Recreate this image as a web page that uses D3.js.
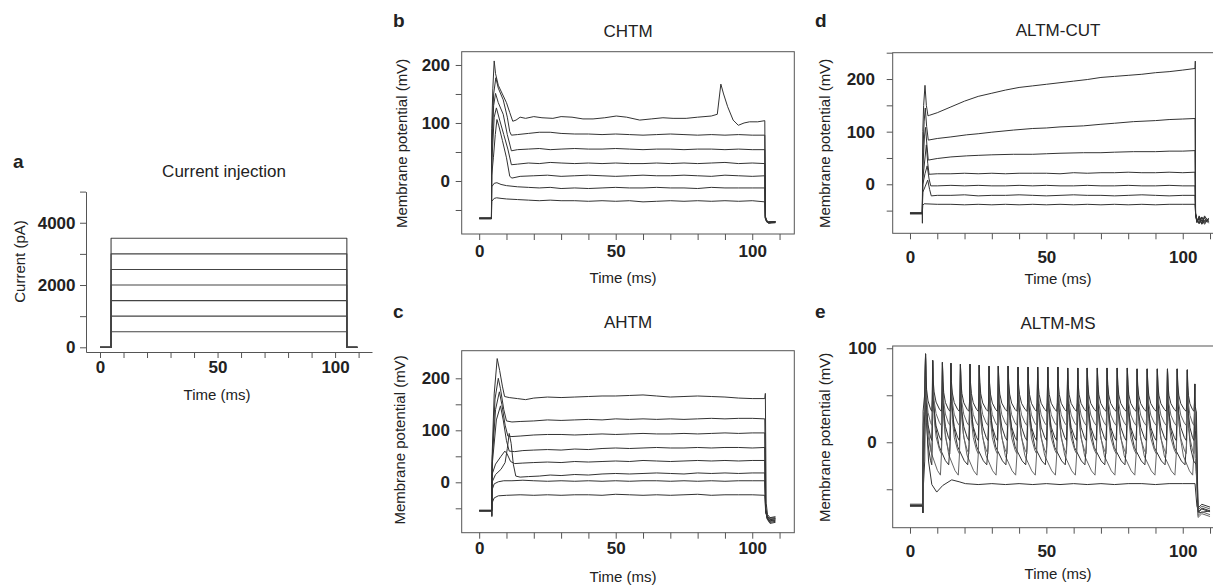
<!DOCTYPE html>
<html>
<head>
<meta charset="utf-8">
<script src="https://cdn.jsdelivr.net/npm/d3@7"></script>
<style>
  body { margin: 0; background: #fff; }
  svg { display: block; font-family: "Liberation Sans", Arial, Helvetica, sans-serif; }
</style>
</head>
<body>
<svg width="1213" height="585"></svg>
<script>
// ---- data: (time ms, value) ----

// a: current injection steps (pA)
const currentSteps = [500, 1000, 1500, 2000, 2500, 3000, 3500]
const stepOn = 4.7
const stepOff = 105
const stepEnd = 109.5

// b: CHTM
const chtmTraces = [
  [[0,-64],[4.5,-64],[4.6,90],[5.0,160],[5.5,207],[6.0,185],[7.0,165],[8.5,150],[10,135],[11.2,118],[12.3,103],[13.5,105],[15,110],[17,108],[20,111],[23,109],[27,108],[30,111],[34,110],[38,107],[41.7,107],[46,109],[50.2,112],[54,110],[58.8,105],[63,107],[67.3,109],[71,108],[75.8,108],[80,110],[85,112],[87.2,115],[88.5,167],[89.5,150],[91,128],[93,105],[94.9,96],[97,100],[99,102],[102,102],[104.6,104],[104.8,-60],[105.3,-70],[106,-72],[108.5,-71]],
  [[0,-65],[4.5,-65],[4.6,70],[5.3,150],[6.1,178],[7,160],[8.8,140],[10.3,110],[11.2,85],[11.8,79],[14,80],[18,82],[22,84],[26,84],[30,82],[35,81],[40,81],[45,80],[50,81],[55,80],[60,79],[65,80],[70,81],[75,80],[80,79],[85,80],[90,79],[95,80],[100,79],[104.6,79],[104.8,-62],[105.3,-69],[106,-70],[108.5,-70]],
  [[0,-64],[4.5,-64],[4.6,50],[5.3,130],[6.0,151],[7,135],[8.8,115],[10.3,80],[11.8,52],[14,54],[18,55],[22,56],[26,54],[30,55],[35,56],[40,55],[45,55],[50,56],[55,55],[60,54],[65,55],[70,55],[75,54],[80,55],[85,55],[90,54],[95,55],[100,54],[104.6,54],[104.8,-63],[105.3,-68],[106,-71],[108.5,-70]],
  [[0,-65],[4.5,-65],[4.6,30],[5.5,110],[6.3,126],[7.5,105],[9,80],[10.5,55],[11.8,28],[14,29],[18,31],[22,30],[26,32],[30,31],[35,30],[40,31],[45,30],[50,31],[55,30],[60,30],[65,31],[70,30],[75,31],[80,30],[85,31],[90,32],[95,30],[100,31],[104.6,30],[104.8,-64],[105.3,-70],[106,-72],[108.5,-71]],
  [[0,-64],[4.5,-64],[4.6,10],[5.2,40],[5.9,80],[6.5,106],[7.2,95],[8.5,70],[10,40],[11.2,8],[12,5],[15,8],[20,9],[25,10],[30,8],[35,9],[40,10],[45,9],[50,8],[55,9],[60,10],[65,9],[70,9],[75,10],[80,9],[85,8],[90,10],[95,9],[100,8],[104.6,9],[104.8,-63],[105.3,-69],[106,-71],[108.5,-70]],
  [[0,-65],[4.5,-65],[4.6,-10],[5.5,-4],[6.5,-3],[8,-6],[10,-8],[14,-10],[18,-11],[22,-12],[26,-11],[30,-13],[35,-12],[40,-13],[45,-12],[50,-11],[55,-12],[60,-12],[65,-11],[70,-12],[75,-12],[80,-13],[85,-11],[90,-12],[95,-12],[100,-12],[104.6,-12],[104.8,-64],[105.3,-70],[106,-73],[108.5,-72]],
  [[0,-64],[4.5,-64],[4.6,-35],[5.5,-30],[6.4,-29],[8,-30],[10,-31],[14,-32],[18,-33],[22,-34],[26,-33],[30,-34],[35,-34],[40,-35],[45,-34],[50,-35],[55,-34],[60,-36],[65,-35],[70,-34],[75,-35],[80,-34],[85,-35],[90,-34],[95,-35],[100,-34],[104.6,-36],[104.8,-65],[105.3,-71],[106,-72],[108.5,-71]]
]

// c: AHTM
const ahtmTraces = [
  [[0,-54],[4.6,-54],[4.65,-66],[4.8,60],[5.5,170],[6.6,238],[7.5,215],[8.5,185],[9.3,165],[11,163],[14,161],[17,159],[20,162],[25,164],[30,163],[35,164],[40,165],[45,166],[50,166],[55,167],[60,168],[65,166],[70,164],[75,165],[80,166],[85,165],[90,164],[95,162],[100,161],[104.6,161],[104.8,171],[105.1,-40],[105.6,-62],[106.5,-68],[108.5,-66]],
  [[0,-55],[4.6,-55],[4.65,-64],[4.8,50],[5.8,160],[7.0,200],[7.8,180],[9,140],[10,118],[12,116],[15,117],[20,118],[25,120],[30,119],[35,120],[40,121],[45,120],[50,122],[55,121],[60,122],[65,121],[70,122],[75,121],[80,122],[85,123],[90,122],[95,123],[100,123],[104.6,122],[104.9,-50],[105.5,-65],[106.5,-72],[108.5,-70]],
  [[0,-54],[4.6,-54],[4.7,40],[6,140],[7.4,174],[8.3,150],[9.5,110],[10.5,89],[12,88],[15,89],[20,91],[25,92],[30,92],[35,91],[40,92],[45,93],[50,92],[55,93],[60,94],[65,93],[70,93],[75,94],[80,93],[85,94],[90,95],[95,94],[100,95],[104.6,95],[104.9,-52],[105.5,-68],[106.5,-75],[108.5,-73]],
  [[0,-55],[4.6,-55],[4.7,30],[6.3,120],[7.8,147],[8.8,120],[10,80],[11,60],[13,59],[16,61],[20,62],[25,63],[30,62],[35,64],[40,63],[45,65],[50,66],[55,65],[60,66],[65,67],[70,66],[75,66],[80,67],[85,66],[90,67],[95,67],[100,66],[104.6,67],[104.9,-54],[105.5,-70],[106.5,-77],[108.5,-75]],
  [[0,-54],[4.6,-54],[4.7,15],[6,35],[8,50],[9.4,60],[10.2,55],[11.5,40],[13,36],[16,37],[20,38],[25,39],[30,38],[35,40],[40,39],[45,40],[50,41],[55,40],[60,42],[65,41],[70,40],[75,41],[80,42],[85,41],[90,42],[95,41],[100,42],[104.6,42],[104.9,-55],[105.5,-71],[106.5,-79],[108.5,-77]],
  [[0,-55],[4.6,-55],[4.7,0],[6,15],[8,25],[9.5,38],[10.3,65],[11.0,94],[11.7,75],[12.5,35],[13.4,12],[15,10],[18,11],[22,12],[26,14],[30,13],[35,15],[40,14],[45,16],[50,17],[55,16],[60,17],[65,18],[70,17],[75,16],[80,18],[85,17],[90,18],[95,17],[100,18],[104.6,18],[104.9,-55],[105.5,-69],[106.5,-74],[108.5,-72]],
  [[0,-54],[4.6,-54],[4.7,-15],[5.5,-3],[7,1],[9,3],[12,3],[16,4],[20,3],[25,2],[30,3],[35,2],[40,3],[45,2],[50,3],[55,2],[60,3],[65,3],[70,2],[75,3],[80,2],[85,3],[90,2],[95,3],[100,3],[104.6,3],[104.9,-55],[105.5,-67],[106.5,-71],[108.5,-70]],
  [[0,-55],[4.6,-55],[4.7,-40],[5.5,-30],[7,-26],[10,-25],[15,-24],[20,-25],[25,-24],[30,-25],[35,-24],[40,-24],[45,-25],[50,-23],[55,-24],[60,-25],[65,-24],[70,-25],[75,-24],[80,-23],[85,-25],[90,-24],[95,-24],[100,-24],[104.6,-25],[104.9,-56],[105.5,-66],[106.5,-69],[108.5,-68]]
]

// d: ALTM-CUT
const altmCutTraces = [
  [[0,-55],[4.5,-55],[4.55,-74],[4.7,100],[5.0,150],[5.5,188],[6.0,150],[6.6,130],[7.1,131],[10,136],[15,147],[20,158],[25,167],[30,173],[35,179],[40,184],[45,187],[50,190],[55,193],[60,196],[65,199],[70,203],[75,205],[80,207],[85,209],[90,212],[95,214],[100,217],[104.5,220],[104.6,234],[104.7,-55],[105.2,-70],[106,-62],[107,-74],[108,-60],[109.5,-72]],
  [[0,-56],[4.5,-56],[4.7,60],[5.2,120],[5.6,145],[6.1,110],[6.7,84],[10,87],[15,90],[20.8,94],[25,96],[30,99],[37.9,103],[45,106],[50,107],[55,109],[63.6,111],[70,114],[75,116],[81.9,119],[90,121],[95,123],[100,124],[104.5,125],[104.7,-58],[105.2,-72],[106,-64],[107,-75],[108,-62],[109.5,-70]],
  [[0,-55],[4.5,-55],[4.7,30],[5.3,90],[5.7,108],[6.2,75],[6.7,46],[10,49],[15,52],[20.8,54],[25,55],[30,56],[37.9,57],[45,57],[50,58],[55,59],[63.6,60],[70,60],[75,61],[81.9,62],[90,62],[95,63],[100,63],[104.5,64],[104.7,-57],[105.2,-68],[106,-75],[107,-63],[108,-73],[109.5,-66]],
  [[0,-54],[4.5,-54],[4.7,10],[5.5,50],[6.0,75],[6.5,40],[7.0,19],[10,20],[15,20],[20,21],[25,20],[30,21],[35,20],[40,21],[45,21],[50,21],[55,20],[60,22],[65,21],[70,22],[75,22],[80,23],[85,22],[90,22],[95,23],[100,22],[104.5,23],[104.7,-56],[105.2,-73],[106,-60],[107,-70],[108,-65],[109.5,-74]],
  [[0,-55],[4.5,-55],[4.7,0],[5.5,20],[6.3,35],[7.0,10],[7.6,-3],[10,-3],[15,-2],[20,-3],[25,-2],[30,-3],[35,-3],[40,-2],[45,-3],[50,-2],[55,-3],[60,-3],[65,-2],[70,-3],[75,-3],[80,-2],[85,-3],[90,-3],[95,-2],[100,-3],[104.5,-3],[104.7,-57],[105.2,-66],[106,-74],[107,-68],[108,-76],[109.5,-64]],
  [[0,-56],[4.5,-56],[4.7,-15],[5.5,-5],[6.5,8],[7.2,-10],[7.8,-22],[10,-21],[15,-21],[20,-20],[25,-22],[30,-21],[35,-21],[40,-20],[45,-21],[50,-22],[55,-21],[60,-20],[65,-21],[70,-21],[75,-22],[80,-21],[85,-20],[90,-21],[95,-22],[100,-21],[104.5,-21],[104.7,-58],[105.2,-71],[106,-66],[107,-76],[108,-68],[109.5,-70]],
  [[0,-55],[4.5,-55],[4.7,-40],[5.2,-37],[10,-38],[15,-38],[20,-39],[25,-38],[30,-39],[35,-38],[40,-39],[45,-38],[50,-39],[55,-38],[60,-39],[65,-38],[70,-39],[75,-38],[80,-39],[85,-38],[90,-39],[95,-38],[100,-38],[104.5,-38],[104.7,-55],[105.2,-69],[106,-73],[107,-62],[108,-71],[109.5,-67]]
]

// e: ALTM-MS
const msQuietTrace = [[0,-67],[4.6,-67],[4.7,-75],[4.9,-47],[5.4,-20],[5.7,90],[6.0,30],[6.8,-20],[8.0,-45],[9.8,-53],[12,-46],[15.3,-40],[18,-42],[20.3,-44],[25,-45],[30,-44],[35,-45],[40,-44],[45,-45],[50,-44],[55,-45],[60,-44],[65,-45],[70,-44],[75,-45],[80,-44],[85,-44],[90,-45],[95,-44],[100,-44],[104.5,-44],[105.2,-68],[106,-75],[110,-73]]
const msSpikeTimes = [5.7, 8.3, 11.9, 15.0, 18.5, 22.0, 25.4, 29.0, 32.4, 36.0, 39.6, 43.3, 46.8, 50.5, 54.2, 57.8, 61.5, 65.0, 68.7, 72.3, 76.0, 79.7, 83.3, 87.0, 90.7, 94.4, 98.0, 101.7, 104.4]
const msSpikePeaks = [94, 87, 85, 84, 83, 83, 82, 81, 81, 81, 80, 80, 80, 80, 80, 79, 79, 79, 79, 79, 79, 79, 78, 78, 78, 78, 78, 77, 62]
const msTroughs = [-35, -24, -12, 2, 18, 33]
const msStride = [2, 2, 1, 1, 1, 1]
const msPhase = [0, 1, 0, 0, 0, 0]
const msBaseline = [-66, -67, -68, -67, -66, -68]
const msEndLevels = [-72, -75, -78, -70, -80, -74]
// shape of the inter-spike trajectory: [fraction of interval, fraction of peak-to-trough height]
const spikeShape = [[0.05, 0.62], [0.15, 0.38], [0.35, 0.18], [0.7, 0.04], [0.88, 0], [0.95, 0.2]]

// ---- drawing ----
const svg = d3.select('svg')
const frameColor = '#555'
const traceColor = '#333'
const textColor = '#222'

function spikeTrain(k) {
  const trough = msTroughs[k]
  const pts = [[0, msBaseline[k]], [4.6, msBaseline[k]], [4.7, -75], [4.8, trough], [5.4, trough + 0.3 * (94 - trough)]]
  const idx = msSpikeTimes.map((t, i) => i).filter((i) => i === 0 || (i >= msPhase[k] && (i - msPhase[k]) % msStride[k] === 0))
  idx.forEach((i, n) => {
    const t = msSpikeTimes[i]
    const peak = msSpikePeaks[i]
    const next = n < idx.length - 1 ? msSpikeTimes[idx[n + 1]] : 105
    const L = next - t
    pts.push([t, peak])
    spikeShape.forEach(([f, a]) => {
      if (n === idx.length - 1 && f > 0.7) return
      pts.push([t + f * L, trough + a * (peak - trough)])
    })
  })
  pts.push([105.0, trough], [105.6, msEndLevels[k]], [107, msEndLevels[k] + 4], [110, msEndLevels[k] + 1])
  return pts
}
const msTraces = [msQuietTrace].concat(msTroughs.map((_, k) => spikeTrain(k)))

function drawPanel(o) {
  const g = svg.append('g')
  const x = d3.scaleLinear().domain(o.xDomain).range(o.xRange)
  const y = d3.scaleLinear().domain(o.yDomain).range(o.yRange)

  g.append('text').attr('x', o.letterPos[0]).attr('y', o.letterPos[1])
    .style('font-size', '19px').style('font-weight', 'bold').style('fill', textColor).text(o.letter)
  g.append('text').attr('x', o.titlePos[0]).attr('y', o.titlePos[1]).attr('text-anchor', 'middle')
    .style('font-size', '17px').style('fill', textColor).text(o.title)

  if (o.frame) {
    g.append('rect')
      .attr('x', o.xRange[0]).attr('y', o.yRange[1])
      .attr('width', o.xRange[1] - o.xRange[0]).attr('height', o.yRange[0] - o.yRange[1])
      .style('fill', 'none').style('stroke', frameColor).style('stroke-width', 1)
  }

  const xAxis = g.append('g').attr('transform', `translate(0,${o.yRange[0]})`)
    .call(d3.axisBottom(x).tickValues(d3.range(0, 111, 10)).tickSize(6).tickSizeOuter(0)
      .tickPadding(o.xPad).tickFormat((d) => (d % 50 === 0 ? d : '')))
  const yAxis = g.append('g').attr('transform', `translate(${o.xRange[0]},0)`)
    .call(d3.axisLeft(y).tickValues(o.yTicks).tickSize(6).tickSizeOuter(0)
      .tickPadding(o.yPad).tickFormat((d) => (o.yLabels.includes(d) ? d : '')))
  ;[xAxis, yAxis].forEach((ax) => {
    ax.selectAll('line').style('stroke', frameColor)
    ax.select('.domain').style('stroke', o.frame ? 'none' : frameColor)
    ax.selectAll('text').style('font-size', '17px').style('font-weight', 'bold')
      .style('fill', textColor).style('font-family', '"Liberation Sans", Arial, sans-serif')
  })

  g.append('text').attr('x', o.xTitlePos[0]).attr('y', o.xTitlePos[1]).attr('text-anchor', 'middle')
    .style('font-size', '15px').style('fill', textColor).text('Time (ms)')
  g.append('text').attr('transform', `translate(${o.yTitlePos[0]},${o.yTitlePos[1]}) rotate(-90)`)
    .attr('text-anchor', 'middle').style('font-size', '15px').style('fill', textColor).text(o.yTitle)

  const line = d3.line().x((d) => x(d[0])).y((d) => y(d[1]))
  g.append('g').selectAll('path').data(o.traces).join('path')
    .attr('d', line)
    .style('fill', 'none')
    .style('stroke', (d, i) => (o.altColor && i % 2 ? '#666' : (o.lineColor || traceColor)))
    .style('stroke-width', o.lineWidth || 1)
    .style('stroke-linejoin', 'round')
}

const currentTraces = currentSteps.map((I) => [[0, 0], [stepOn, 0], [stepOn, I], [stepOff, I], [stepOff, 0], [stepEnd, 0]])

drawPanel({
  letter: 'a', letterPos: [13, 168], title: 'Current injection', titlePos: [224, 177],
  xDomain: [-5.96, 115.7], xRange: [86, 372], yDomain: [-151, 5000], yRange: [352, 191.6],
  yTicks: [0, 1000, 2000, 3000, 4000, 5000], yLabels: [0, 2000, 4000], xPad: 3.2, yPad: 4.5,
  yTitle: 'Current (pA)', yTitlePos: [25, 261.5], xTitlePos: [217, 400],
  frame: false, traces: currentTraces, lineWidth: 1.1, lineColor: '#444'
})
drawPanel({
  letter: 'b', letterPos: [393, 27], title: 'CHTM', titlePos: [628, 37],
  xDomain: [-6.4, 115.4], xRange: [461.7, 794.3], yDomain: [-91.4, 222.9], yRange: [234, 51.7],
  yTicks: [-50, 0, 50, 100, 150, 200], yLabels: [0, 100, 200], xPad: 4.8, yPad: 5.7,
  yTitle: 'Membrane potential (mV)', yTitlePos: [407, 143.5], xTitlePos: [623, 283],
  frame: true, traces: chtmTraces
})
drawPanel({
  letter: 'c', letterPos: [393, 318], title: 'AHTM', titlePos: [628, 328],
  xDomain: [-6.4, 115.4], xRange: [461.7, 794.3], yDomain: [-96.9, 253.1], yRange: [532.7, 350.7],
  yTicks: [-50, 0, 50, 100, 150, 200], yLabels: [0, 100, 200], xPad: 2.8, yPad: 5.7,
  yTitle: 'Membrane potential (mV)', yTitlePos: [405, 440], xTitlePos: [623, 582],
  frame: true, traces: ahtmTraces
})
drawPanel({
  letter: 'd', letterPos: [815, 27], title: 'ALTM-CUT', titlePos: [1058, 36],
  xDomain: [-6.34, 115.6], xRange: [892.7, 1225.3], yDomain: [-93.1, 250], yRange: [233.3, 52.7],
  yTicks: [-50, 0, 50, 100, 150, 200, 250], yLabels: [0, 100, 200], xPad: 12, yPad: 11.7,
  yTitle: 'Membrane potential (mV)', yTitlePos: [830, 143.5], xTitlePos: [1058, 284],
  frame: true, traces: altmCutTraces
})
drawPanel({
  letter: 'e', letterPos: [815, 318], title: 'ALTM-MS', titlePos: [1058, 329],
  xDomain: [-6.34, 115.6], xRange: [892.7, 1225.3], yDomain: [-90.9, 102.4], yRange: [527.7, 346],
  yTicks: [-50, 0, 50, 100], yLabels: [0, 100], xPad: 11, yPad: 10,
  yTitle: 'Membrane potential (mV)', yTitlePos: [830, 437.5], xTitlePos: [1058, 579],
  frame: true, traces: msTraces, altColor: true
})
</script>
</body>
</html>
